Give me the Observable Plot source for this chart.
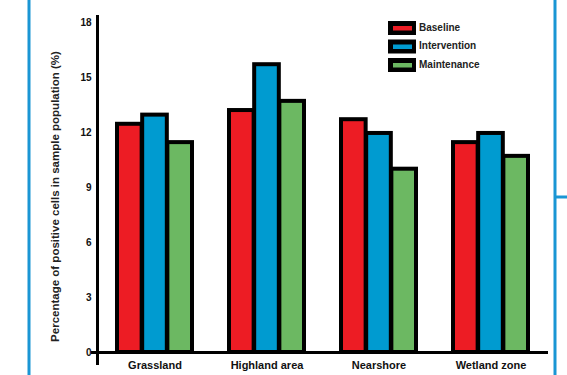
<!DOCTYPE html>
<html>
<head>
<meta charset="utf-8">
<script src="https://cdn.jsdelivr.net/npm/d3@7"></script>
<script src="https://cdn.jsdelivr.net/npm/@observablehq/plot@0.6"></script>
<style>
  html, body { margin: 0; padding: 0; background: white; }
  #chart { width: 567px; height: 375px; overflow: hidden; }
</style>
</head>
<body>
<div id="chart"></div>
<script>
const categories = ["Grassland", "Highland area", "Nearshore", "Wetland zone"];
const series = ["Baseline", "Intervention", "Maintenance"];
const baselineValues = [12.45, 13.2, 12.7, 11.45];
const interventionValues = [12.95, 15.7, 11.95, 11.95];
const maintenanceValues = [11.45, 13.7, 10.0, 10.7];
const yTicks = [0, 3, 6, 9, 12, 15, 18];
const colors = ["#ED1C24", "#009BD0", "#6CB862"];
const yTitle = "Percentage of positive cells in sample population (%)";

const seriesValues = [baselineValues, interventionValues, maintenanceValues];
const data = [];
series.forEach((s, si) => categories.forEach((c, ci) => data.push({category: c, series: s, value: seriesValues[si][ci]})));

const W = 567, H = 375, mL = 97, mR = 19, mT = 16, mB = 23;
const pIn = 0.33, pOut = 0.165;
const step = (W - mL - mR) / (categories.length - pIn + 2 * pOut);
const bw = step * (1 - pIn);
const sub = bw / series.length;

const chart = Plot.plot({
  width: W, height: H,
  marginLeft: mL, marginRight: mR, marginTop: mT, marginBottom: mB,
  style: {fontFamily: "'Liberation Sans', Arial, sans-serif", background: "white", color: "#111"},
  x: {type: "band", domain: categories, paddingInner: pIn, paddingOuter: pOut, axis: null},
  y: {domain: [0, 18.33], axis: null},
  color: {domain: series, range: colors},
  marks: [
    ...series.map((s, i) => Plot.barY(data.filter(d => d.series === s), {
      x: "category", y: "value", fill: "series", stroke: "black", strokeWidth: 4,
      insetLeft: i * sub, insetRight: (series.length - 1 - i) * sub
    })),
    Plot.ruleY([0], {stroke: "black", strokeWidth: 3, insetLeft: -6}),
    Plot.frame({anchor: "left", stroke: "black", strokeWidth: 3, insetBottom: -11}),
    Plot.axisY({ticks: yTicks, tickSize: 0, tickPadding: 6, fontSize: 10, fontWeight: "bold", label: null}),
    Plot.axisX({tickSize: 0, tickPadding: 9, fontSize: 11, fontWeight: "bold", label: null}),
    Plot.text([yTitle], {frameAnchor: "left", rotate: -90, dx: -42, dy: 12, textAnchor: "middle", fontSize: 11.5, fontWeight: "bold", fill: "#222"})
  ]
});

const svg = d3.select(chart);
// decorative blue border lines
svg.append("line").attr("x1", 29).attr("x2", 29).attr("y1", 0).attr("y2", H).attr("stroke", "#1A96D4").attr("stroke-width", 3);
svg.append("line").attr("x1", 555).attr("x2", 555).attr("y1", 0).attr("y2", H).attr("stroke", "#1A96D4").attr("stroke-width", 3);
svg.append("line").attr("x1", 555).attr("x2", W).attr("y1", 197).attr("y2", 197).attr("stroke", "#1A96D4").attr("stroke-width", 3);

// legend
const lg = svg.append("g");
series.forEach((s, i) => {
  const y0 = 21 + i * 18.5;
  lg.append("rect").attr("x", 388).attr("y", y0).attr("width", 28).attr("height", 14).attr("fill", "black");
  lg.append("rect").attr("x", 393).attr("y", y0 + 5).attr("width", 19).attr("height", 4.5).attr("fill", colors[i]);
  lg.append("text").attr("x", 419).attr("y", y0 + 7).attr("dominant-baseline", "middle")
    .attr("text-anchor", "start")
    .attr("font-size", 10).attr("font-weight", "bold").attr("fill", "#222")
    .attr("font-family", "'Liberation Sans', Arial, sans-serif").text(s);
});

document.getElementById("chart").appendChild(chart);
</script>
</body>
</html>
